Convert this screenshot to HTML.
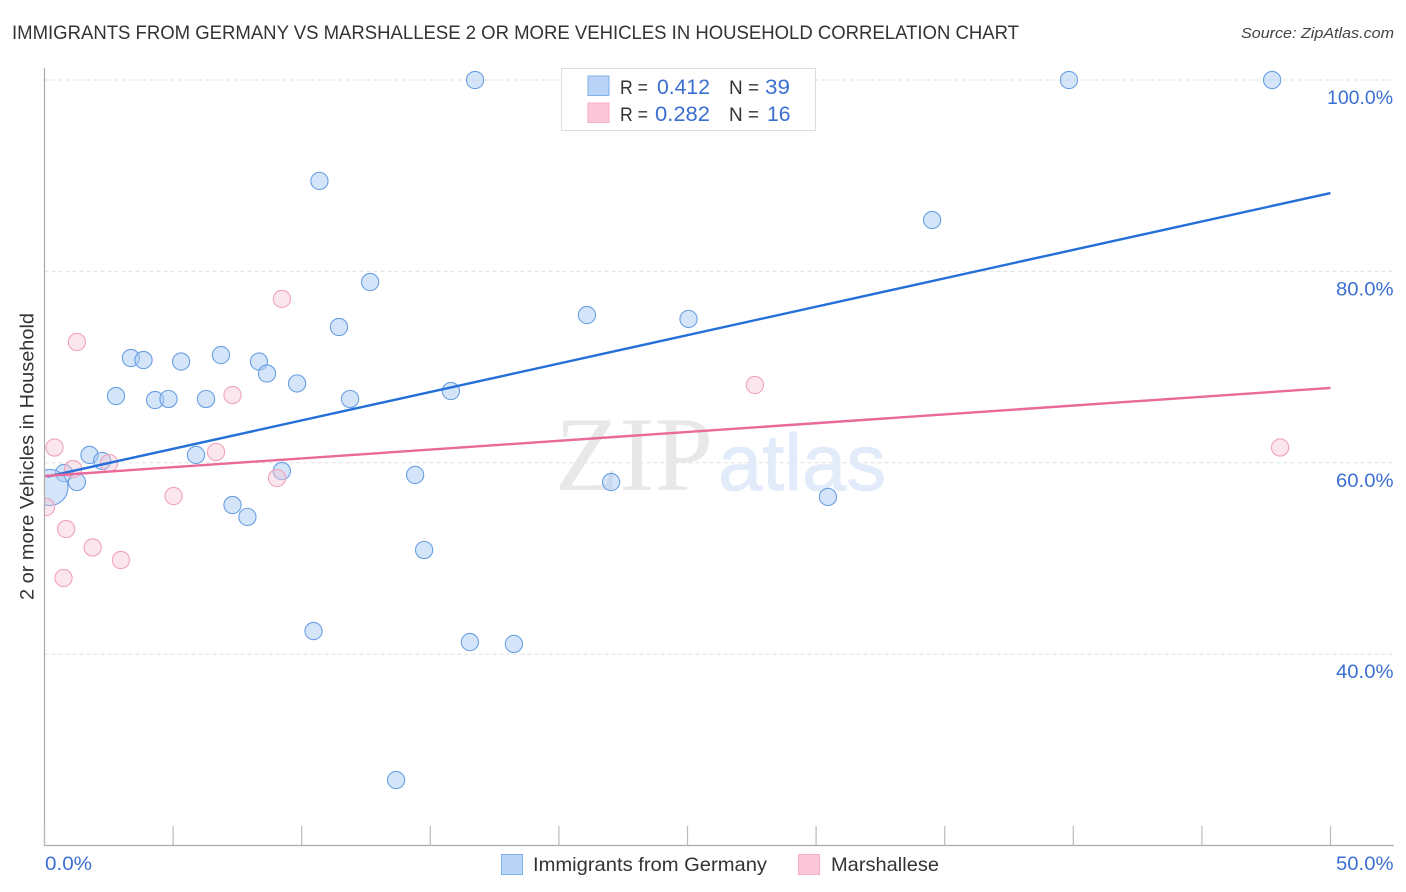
<!DOCTYPE html>
<html lang="en">
<head>
<meta charset="utf-8">
<title>Immigrants from Germany vs Marshallese correlation chart</title>
<style>
html,body{margin:0;padding:0;background:#fff;}
svg{display:block;font-family:"Liberation Sans",sans-serif;}
</style>
</head>
<body>
<svg id="chart" xmlns="http://www.w3.org/2000/svg" width="1406" height="892" viewBox="0 0 1406 892">
  <defs>
    <clipPath id="plot-clip"><rect x="44.5" y="60" width="1350" height="786"/></clipPath>
  </defs>
  <text x="12" y="39" font-size="19" fill="#333" textLength="1007" lengthAdjust="spacingAndGlyphs">IMMIGRANTS FROM GERMANY VS MARSHALLESE 2 OR MORE VEHICLES IN HOUSEHOLD CORRELATION CHART</text>
  <text x="1241" y="38" font-size="15" font-style="italic" fill="#444" textLength="153" lengthAdjust="spacingAndGlyphs">Source: ZipAtlas.com</text>

  <g id="grid"></g>

  <g>
    <text x="555" y="490" font-family="'Liberation Serif',serif" font-size="106" fill="#e8e8e8" textLength="158" lengthAdjust="spacingAndGlyphs">ZIP</text>
    <text x="718" y="490" font-size="80" fill="#e1ebfa" stroke="#e1ebfa" stroke-width="0.8" textLength="168" lengthAdjust="spacingAndGlyphs">atlas</text>
  </g>

  <g id="points" clip-path="url(#plot-clip)"></g>
  <g id="trends"></g>
  <g id="axes"></g>
  <g id="tick-labels"></g>

  <text transform="translate(33.5,456.5) rotate(-90)" font-size="19.5" fill="#333" text-anchor="middle" textLength="287" lengthAdjust="spacingAndGlyphs">2 or more Vehicles in Household</text>

  <g>
    <rect x="561.5" y="68.5" width="254" height="62" fill="#fff" stroke="#ddd" stroke-width="1"/>
    <rect x="588" y="76" width="21" height="19.5" fill="#b9d3f7" stroke="#7fb0ea" stroke-width="1"/>
    <rect x="588" y="103" width="21" height="19.5" fill="#fcc8d9" stroke="#f5aec6" stroke-width="1"/>
    <text x="620" y="94" font-size="19.5" fill="#333" textLength="28" lengthAdjust="spacingAndGlyphs">R =</text>
    <text x="657" y="94" font-size="21" fill="#3b6fd1" textLength="53" lengthAdjust="spacingAndGlyphs">0.412</text>
    <text x="729" y="94" font-size="19.5" fill="#333" textLength="30" lengthAdjust="spacingAndGlyphs">N =</text>
    <text x="765" y="94" font-size="21" fill="#3b6fd1" textLength="25" lengthAdjust="spacingAndGlyphs">39</text>
    <text x="620" y="121" font-size="19.5" fill="#333" textLength="28" lengthAdjust="spacingAndGlyphs">R =</text>
    <text x="655" y="121" font-size="21" fill="#3b6fd1" textLength="55" lengthAdjust="spacingAndGlyphs">0.282</text>
    <text x="729" y="121" font-size="19.5" fill="#333" textLength="30" lengthAdjust="spacingAndGlyphs">N =</text>
    <text x="767" y="121" font-size="21" fill="#3b6fd1" textLength="23.5" lengthAdjust="spacingAndGlyphs">16</text>
  </g>

  <g>
    <rect x="501.5" y="854.5" width="21" height="20" fill="#b9d3f7" stroke="#7fb0ea" stroke-width="1"/>
    <text x="533" y="871" font-size="19.5" fill="#333" textLength="234" lengthAdjust="spacingAndGlyphs">Immigrants from Germany</text>
    <rect x="798.5" y="854.5" width="21" height="20" fill="#fcc8d9" stroke="#f5aec6" stroke-width="1"/>
    <text x="831" y="871" font-size="19.5" fill="#333" textLength="108" lengthAdjust="spacingAndGlyphs">Marshallese</text>
  </g>
</svg>
<script>
// Chart data (x = percent immigrants, y = percent of households)
const germanyX = [16.74,39.83,47.73,10.69,34.51,12.66,11.45,21.09,25.04,3.36,3.85,5.31,6.86,8.34,8.65,9.82,2.78,4.30,4.82,6.28,11.88,15.80,1.75,2.24,5.89,0.76,1.26,9.23,14.41,22.03,30.46,7.31,7.89,14.76,10.46,16.54,18.25,13.67,0.21];
const germanyY = [100,100,100,89.45,85.37,78.89,74.19,75.44,75.03,70.95,70.74,70.58,71.26,70.58,69.33,68.29,66.98,66.56,66.67,66.67,66.67,67.50,60.82,60.19,60.82,58.93,57.99,59.14,58.73,57.99,56.43,55.59,54.34,50.89,42.42,41.27,41.07,26.85,57.42];
const germanyWeight = [1,1,1,1,1,1,1,1,1,1,1,1,1,1,1,1,1,1,1,1,1,1,1,1,1,1,1,1,1,1,1,1,1,1,1,1,1,1,4.4];
const marshalleseX = [0.39,1.26,9.23,27.62,7.31,6.67,48.04,2.51,1.11,9.04,5.02,0.06,0.84,1.87,2.97,0.74];
const marshalleseY = [61.6,72.62,77.12,68.13,67.08,61.13,61.6,59.98,59.35,58.41,56.53,55.38,53.08,51.15,49.84,47.96];
const germanyTrendX = [0.1,50];
const germanyTrendY = [58.55,88.19];
const marshalleseTrendX = [0,50];
const marshalleseTrendY = [58.62,67.82];
const yGridValues = [100,80,60,40];
const yTickLabels = ["100.0%","80.0%","60.0%","40.0%"];
const xTickValues = [0,5,10,15,20,25,30,35,40,45,50];
const xEndValues = [0,50];
const xEndLabels = ["0.0%","50.0%"];

const NS = "http://www.w3.org/2000/svg";
function xPos(v){ return 44.5 + v * 25.72; }
function yPos(v){ return 80 + (100 - v) * 9.57; }
function make(tag, attrs, parent){
  const el = document.createElementNS(NS, tag);
  for (const k in attrs) el.setAttribute(k, attrs[k]);
  parent.appendChild(el);
  return el;
}
const gridG = document.getElementById("grid");
const pointsG = document.getElementById("points");
const trendsG = document.getElementById("trends");
const axesG = document.getElementById("axes");
const labelsG = document.getElementById("tick-labels");

yGridValues.forEach(function(v, i){
  const line = make("line", {x1:44.5, x2:1394, y1:yPos(v), y2:yPos(v), stroke:"#e0e0e0", "stroke-width":1, "stroke-dasharray":"4 3"}, gridG);
  
  
  const wide = yTickLabels[i].length > 5;
  const label = make("text", {x:wide ? 1327 : 1336, y:yPos(v)+24, "font-size":19.5, fill:"#3b6fd1", textLength:wide ? 66 : 57.5, lengthAdjust:"spacingAndGlyphs"}, labelsG);
  label.textContent = yTickLabels[i];
  
  
});

germanyX.forEach(function(v, i){
  const c = make("circle", {cx:xPos(v), cy:yPos(germanyY[i]), r:8.6*Math.sqrt(germanyWeight[i]), fill:"#a9cbf6", "fill-opacity":0.5, stroke:"#6a9fe3", "stroke-width":1.1}, pointsG);
  
  
});
marshalleseX.forEach(function(v, i){
  const c = make("circle", {cx:xPos(v), cy:yPos(marshalleseY[i]), r:8.6, fill:"#f9c3d5", "fill-opacity":0.42, stroke:"#f0a3bd", "stroke-width":1.1}, pointsG);
  
  
});

const germanyLine = make("line", {x1:xPos(germanyTrendX[0]), y1:yPos(germanyTrendY[0]), x2:xPos(germanyTrendX[1]), y2:yPos(germanyTrendY[1]), stroke:"#2470d8", "stroke-width":2.4}, trendsG);


const marshalleseLine = make("line", {x1:xPos(marshalleseTrendX[0]), y1:yPos(marshalleseTrendY[0]), x2:xPos(marshalleseTrendX[1]), y2:yPos(marshalleseTrendY[1]), stroke:"#e8699a", "stroke-width":2.4}, trendsG);



const yAxis = make("line", {x1:44.5, x2:44.5, y1:68, y2:846, stroke:"#aaa", "stroke-width":1.2}, axesG);


const xAxis = make("line", {x1:44, x2:1394, y1:845.5, y2:845.5, stroke:"#aaa", "stroke-width":1.2}, axesG);


xTickValues.forEach(function(v){
  const t = make("line", {x1:xPos(v), x2:xPos(v), y1:826, y2:845.5, stroke:"#bbb", "stroke-width":1.2}, axesG);
  
  
});
xEndValues.forEach(function(v, i){
  const first = i === 0;
  const label = make("text", {x:first ? xPos(v)+0.5 : 1336, y:870, "font-size":19.5, fill:"#3b6fd1", textLength:first ? 47 : 57.5, lengthAdjust:"spacingAndGlyphs"}, labelsG);
  label.textContent = xEndLabels[i];
  
  
});
</script>
</body>
</html>
